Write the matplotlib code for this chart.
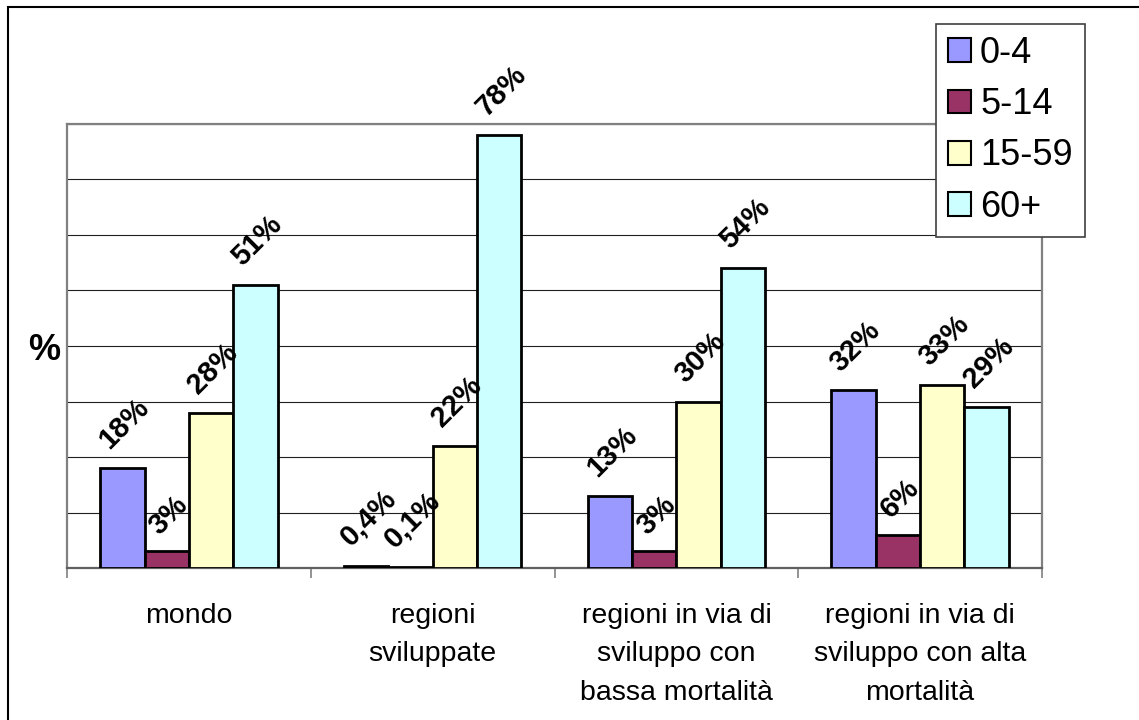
import matplotlib
matplotlib.use("Agg")
import matplotlib.pyplot as plt
import numpy as np

plt.rcParams['font.family'] = ['Liberation Sans', 'DejaVu Sans']

# Data
categories = ["mondo",
              "regioni\nsviluppate",
              "regioni in via di\nsviluppo con\nbassa mortalità",
              "regioni in via di\nsviluppo con alta\nmortalità"]
age_groups = ["0-4", "5-14", "15-59", "60+"]
val_0_4 = [18, 0.4, 13, 32]
val_5_14 = [3, 0.1, 3, 6]
val_15_59 = [28, 22, 30, 33]
val_60_plus = [51, 78, 54, 29]
series = [val_0_4, val_5_14, val_15_59, val_60_plus]
colors = ["#9999FF", "#993366", "#FFFFCC", "#CCFFFF"]


def fmt(v):
    if float(v).is_integer():
        return f"{int(v)}%"
    return f"{v}".replace(".", ",") + "%"


W, H, DPI = 1139, 720, 100
fig = plt.figure(figsize=(W / DPI, H / DPI), dpi=DPI)

# plot area
left, right, top, bottom = 67, 1042, 124, 568
ax = fig.add_axes([left / W, 1 - bottom / H, (right - left) / W, (bottom - top) / H])

x = np.arange(len(categories))
bw = 0.182
offsets = (np.arange(4) - 1.5) * bw

bars = []
for i, (vals, c, lab) in enumerate(zip(series, colors, age_groups)):
    b = ax.bar(x + offsets[i], vals, width=bw, color=c, edgecolor="black",
               linewidth=2.0, label=lab, zorder=3)
    bars.append(b)

ax.set_xlim(-0.5, 3.5)
ax.set_ylim(0, 80)
ax.set_yticks(np.arange(0, 81, 10))
ax.yaxis.grid(True, color="#202020", linewidth=0.8)
ax.set_axisbelow(True)
ax.tick_params(axis="y", left=False, labelleft=False)

# category boundary ticks + centred category labels
ax.set_xticks(np.arange(-0.5, 3.6, 1.0))
ax.set_xticklabels([""] * 5)
ax.tick_params(axis="x", which="major", direction="out", length=7,
               width=1.2, color="#808080")
ax.set_xticks(x, minor=True)
ax.set_xticklabels(categories, minor=True, fontsize=20.5, linespacing=1.62)
ax.tick_params(axis="x", which="minor", length=0, pad=25)

for side in ["left", "top", "right"]:
    ax.spines[side].set_color("#808080")
    ax.spines[side].set_linewidth(1.6)
ax.spines["bottom"].set_color("#606060")
ax.spines["bottom"].set_linewidth(1.6)

# rotated value labels
fig.canvas.draw()
renderer = fig.canvas.get_renderer()
for vals, i in zip(series, range(4)):
    for j, v in enumerate(vals):
        s = fmt(v)
        t = ax.text(0, 0, s, fontsize=21, fontweight="bold")
        w = t.get_window_extent(renderer).width
        t.remove()
        off_px = w / 2 + 15
        ax.annotate(s, xy=(x[j] + offsets[i], v),
                    xytext=(2 * 72 / DPI, off_px * 72 / DPI),
                    textcoords="offset points", rotation=45,
                    rotation_mode="anchor", ha="center", va="center",
                    fontsize=21, fontweight="bold", annotation_clip=False,
                    zorder=5)

# axis caption
fig.text(44 / W, 1 - 350 / H, "%", fontsize=26, fontweight="bold",
         ha="center", va="center")

# legend
leg = fig.legend(handles=bars, labels=age_groups, loc="upper left",
                 bbox_to_anchor=(936 / W, 1 - 24 / H), fontsize=26,
                 frameon=True, fancybox=False, shadow=False, framealpha=1,
                 edgecolor="#404040", handlelength=0.64, handleheight=0.64,
                 handletextpad=0.25, labelspacing=0.45, borderpad=0.33,
                 borderaxespad=0)
leg.get_frame().set_linewidth(1.2)
for h in leg.legend_handles:
    h.set_linewidth(1.5)

# outer chart border
fig.add_artist(plt.Rectangle((8 / W, -0.1), 1.2, 1 - 7 / H + 0.1,
                             transform=fig.transFigure, fill=False,
                             edgecolor="black", linewidth=1.5))

fig.savefig("out.png", dpi=DPI)
